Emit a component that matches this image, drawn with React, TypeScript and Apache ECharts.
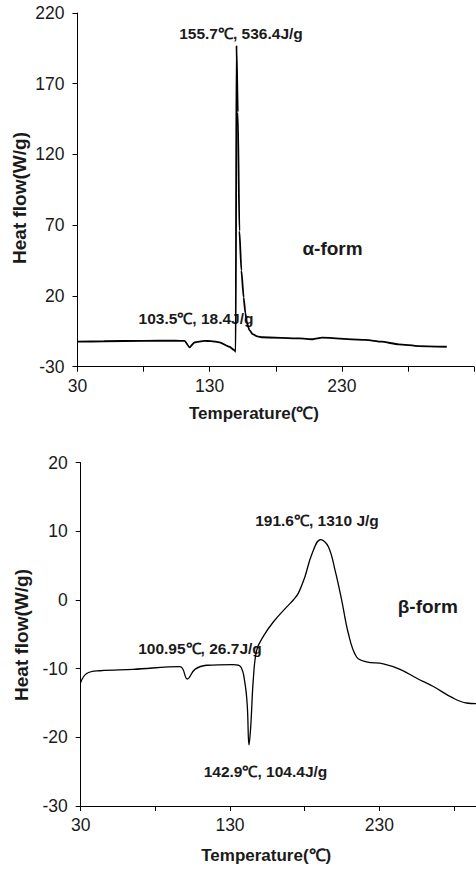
import React, { useEffect, useRef } from "react";
import * as echarts from "echarts";

// α-form DSC curve (temperature °C, heat flow W/g)
const alphaTemp = [30, 50, 80, 104, 111, 114.8, 118.5, 126, 131, 137.4, 144.9, 148.7, 149.7, 150.3, 151.3, 152.5, 154, 155.7, 157, 158.2, 160, 162.5, 166, 170, 198, 208, 215, 248, 260, 273, 288, 309.4];
const alphaHeat = [-12.3, -12.0, -11.7, -11.6, -11.8, -16.3, -12.9, -11.8, -11.9, -12.8, -15.9, -18.3, -19.4, 197, 150, 66, 38, 19, 8, 1, -4, -7, -8.5, -9.2, -10, -10.6, -9.5, -11.1, -12.3, -14.2, -15.4, -15.9];

// β-form DSC curve
const betaTemp = [30, 34, 42.9, 65.2, 96.5, 101.4, 106.5, 114.4, 132.2, 137.1, 140, 141.6, 142.7, 143.9, 145.6, 147.9, 152.3, 159, 168, 172.4, 175.8, 180.2, 184.7, 190.7, 195.8, 200.3, 204.8, 209.2, 214.8, 221.5, 232.7, 243.9, 255.1, 266.2, 279.6, 288.5, 296, 305];
const betaHeat = [-12.0, -10.7, -10.3, -10.1, -9.7, -11.5, -10.1, -9.5, -9.4, -9.7, -12.1, -15.5, -21.1, -18.4, -11.6, -7.3, -5.3, -3.2, -1.0, 0, 1.0, 3.4, 6.6, 8.8, 7.8, 4.4, 0, -4.8, -8.3, -9.0, -9.3, -10.1, -11.4, -12.6, -14.3, -15.0, -15.1, -15.1];

// axes
const xMin = 30;
const xMax = 330;
const xInterval = 50;
const xTickLabels = [30, 130, 230];
const alphaYMin = -30;
const alphaYMax = 220;
const alphaYInterval = 50;
const betaYMin = -30;
const betaYMax = 20;
const betaYInterval = 10;

// texts
const yTitle = "Heat flow(W/g)";
const xTitle = "Temperature(℃)";
const alphaNotes = ["155.7℃, 536.4J/g", "103.5℃, 18.4J/g", "α-form"];
const betaNotes = ["191.6℃, 1310 J/g", "β-form", "100.95℃, 26.7J/g", "142.9℃, 104.4J/g"];

const FONT = "'Liberation Sans', Arial, sans-serif";
const TXT = "#1a1a1a";

function zip(xs: number[], ys: number[]) {
  return xs.map((x, i) => [x, ys[i]]);
}

export default function App() {
  const ref = useRef<HTMLDivElement>(null);
  useEffect(() => {
    if (!ref.current) return;
    const chart = echarts.init(ref.current, undefined, { renderer: "svg" });
    const xAxisBase = (gridIndex: number) => ({
      type: "value",
      gridIndex,
      min: xMin,
      max: xMax,
      interval: xInterval,
      splitLine: { show: false },
      axisLine: { onZero: false, lineStyle: { color: "#000", width: 1 } },
      axisTick: { show: true, inside: false, length: 5, lineStyle: { color: "#000" } },
      axisLabel: {
        margin: 10,
        color: TXT,
        fontSize: 17.5,
        fontFamily: FONT,
        formatter: (v: number) => (xTickLabels.includes(Math.round(v)) ? String(Math.round(v)) : ""),
      },
    });
    const yAxisBase = (gridIndex: number, min: number, max: number, interval: number) => ({
      type: "value",
      gridIndex,
      min,
      max,
      interval,
      splitLine: { show: false },
      axisLine: { show: true, onZero: false, lineStyle: { color: "#000", width: 1 } },
      axisTick: { show: true, inside: false, length: 5, lineStyle: { color: "#000" } },
      axisLabel: { margin: 13, color: TXT, fontSize: 17.5, fontFamily: FONT },
    });
    const txt = (text: string, x: number, y: number, size: number, rotation = 0) => ({
      type: "text",
      x,
      y,
      rotation,
      style: {
        text,
        fill: TXT,
        font: `bold ${size}px ${FONT}`,
        align: "center",
        verticalAlign: "middle",
      },
    });
    chart.setOption({
      animation: false,
      backgroundColor: "#fff",
      grid: [
        { left: 77.5, top: 13, width: 396.5, height: 353.7 },
        { left: 80.7, top: 462.7, width: 447.9, height: 343.3 },
      ],
      xAxis: [xAxisBase(0), xAxisBase(1)],
      yAxis: [
        yAxisBase(0, alphaYMin, alphaYMax, alphaYInterval),
        yAxisBase(1, betaYMin, betaYMax, betaYInterval),
      ],
      series: [
        {
          type: "line",
          xAxisIndex: 0,
          yAxisIndex: 0,
          data: zip(alphaTemp, alphaHeat),
          showSymbol: false,
          smooth: 0.2,
          smoothMonotone: "x",
          lineStyle: { color: "#000", width: 1.8 },
        },
        {
          type: "line",
          xAxisIndex: 1,
          yAxisIndex: 1,
          data: zip(betaTemp, betaHeat),
          showSymbol: false,
          smooth: 0.4,
          lineStyle: { color: "#000", width: 1.3 },
        },
      ],
      graphic: [
        txt(yTitle, 19, 198, 19, Math.PI / 2),
        txt(xTitle, 254, 413, 17),
        txt(alphaNotes[0], 241, 33, 15.5),
        txt(alphaNotes[1], 196, 318, 15.5),
        txt(alphaNotes[2], 332.5, 248, 19),
        txt(yTitle, 21.7, 635, 19, Math.PI / 2),
        txt(xTitle, 266.2, 855, 17),
        txt(betaNotes[0], 317, 520.7, 15.5),
        txt(betaNotes[1], 427.8, 606.7, 19),
        txt(betaNotes[2], 200, 648.3, 15.5),
        txt(betaNotes[3], 265.5, 771.7, 15.5),
      ],
    });
    return () => chart.dispose();
  }, []);
  return (
    <div style={{ position: "absolute", left: 0, top: 0, width: 476, height: 879, overflow: "hidden", background: "#fff" }}>
      <div ref={ref} style={{ width: 560, height: 879 }} />
    </div>
  );
}
